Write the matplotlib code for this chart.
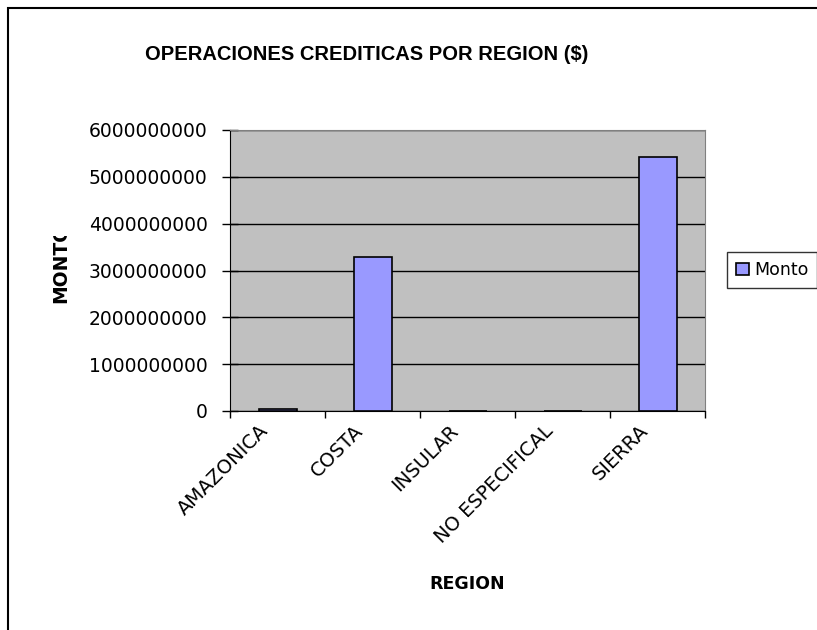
import matplotlib
matplotlib.use("Agg")
import matplotlib.pyplot as plt
from matplotlib.patches import Rectangle
from matplotlib.transforms import ScaledTranslation, Bbox, blended_transform_factory

regiones = ['AMAZONICA', 'COSTA', 'INSULAR', 'NO ESPECIFICAL', 'SIERRA']
monto = [40000000, 3290000000, 0, 0, 5420000000]
yticks = [0, 1000000000, 2000000000, 3000000000, 4000000000, 5000000000, 6000000000]

plt.rcParams['font.family'] = ['DejaVu Sans']

fig = plt.figure(figsize=(8.17, 6.3), dpi=100)
ax = fig.add_axes([230/817, 1-411/630, 475/817, 281/630])
ax.set_facecolor('#C0C0C0')

x = list(range(len(regiones)))
ax.bar(x, monto, width=0.4, color='#9999FF', edgecolor='black', linewidth=1.2, zorder=3, label='Monto')

ax.set_xlim(-0.5, len(regiones)-0.5)
ax.set_ylim(0, 6000000000)
ax.set_yticks(yticks)
ax.set_yticklabels([str(v) for v in yticks], fontsize=13.5)
ax.yaxis.grid(True, color='black', linewidth=1, zorder=1)
ax.set_axisbelow(True)

ax.set_xticks([i - 0.5 for i in range(len(regiones)+1)])
ax.set_xticklabels([])
ax.tick_params(axis='x', which='major', length=5, width=1)
ax.tick_params(axis='y', length=11, width=1, direction='inout', pad=10.5)

# rotated category labels, anchored at their top-right corner under each category
trans = blended_transform_factory(ax.transData, ax.transAxes) + \
    ScaledTranslation(-19/100, -10/100, fig.dpi_scale_trans)
for i, name in enumerate(regiones):
    ax.text(i, 0, name, transform=trans, rotation=45, rotation_mode='anchor',
            ha='right', va='top', fontsize=14)

for s in ['top', 'right']:
    ax.spines[s].set_color('#808080')
ax.spines['left'].set_color('black')
ax.spines['bottom'].set_color('black')

ax.set_xlabel('REGION', fontsize=12.5, fontweight='bold', va='top')
ax.xaxis.set_label_coords(0.5, -0.583)

ylab = fig.text(61/817, 1-303/630, 'MONTO', rotation=90, fontsize=13.5, fontweight='bold',
                ha='center', va='bottom')
ylab.set_clip_box(Bbox.from_extents(0, 0, 817, 630-236))
ylab.set_clip_on(True)

fig.text(367/817, 1-55/630, 'OPERACIONES CREDITICAS POR REGION ($)', fontsize=14.5,
         fontweight='bold', family=['Liberation Sans', 'DejaVu Sans'],
         ha='center', va='center')

leg = ax.legend(loc='center left', bbox_to_anchor=(727/817, 1-270/630),
                bbox_transform=fig.transFigure, frameon=True, fancybox=False,
                fontsize=12.5, handlelength=0.75, handleheight=0.75, handletextpad=0.3,
                borderpad=0.5, borderaxespad=0)
leg.get_frame().set_edgecolor('black')
leg.get_frame().set_linewidth(1)

fig.patches.append(Rectangle((8/817, -0.1), 1.2, 1 - 8/630 + 0.1, transform=fig.transFigure,
                             fill=False, edgecolor='black', linewidth=1.5))

fig.savefig('out.png', dpi=100)
